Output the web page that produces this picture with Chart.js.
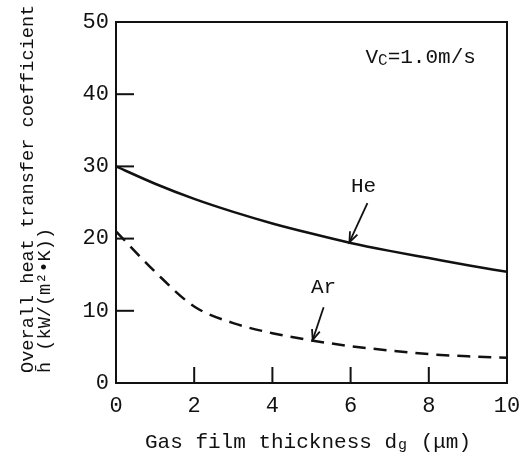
<!DOCTYPE html>
<html><head><meta charset="utf-8">
<script src="https://cdn.jsdelivr.net/npm/chart.js@4"></script>
<style>html,body{margin:0;padding:0;background:#fff;} canvas{display:block}</style>
</head><body>
<canvas id="c" width="522" height="454"></canvas>
<script>
// ---- data ----
const thickness = [0, 1, 2, 3, 4, 5, 6, 7, 8, 9, 10];
const heValues  = [30.0, 27.6, 25.5, 23.7, 22.1, 20.7, 19.4, 18.3, 17.3, 16.3, 15.4];
const arValues  = [21.0, 15.4, 10.6, 8.3, 6.9, 5.9, 5.1, 4.5, 4.0, 3.7, 3.5];
const xTicks = [0, 2, 4, 6, 8, 10];
const yTicks = [0, 10, 20, 30, 40, 50];
const seriesNames = ['He', 'Ar'];
const xTitle = ['Gas film thickness d', 'g', ' (\u03bcm)'];
const yTitle1 = 'Overall heat transfer coefficient';
const yTitle2 = 'h\u0304 (kW/(m\u00b2\u2022K))';
const condText = ['V', 'C', '=1.0m/s'];

// ---- annotation placement (data coordinates) ----
const notes = {
  he: { label: [6.33, 27.2], from: [6.43, 24.9], to: [5.97, 19.5] },
  ar: { label: [5.31, 13.3], from: [5.31, 10.5], to: [5.03, 5.96] },
  cond: [6.38, 44.3]
};

const FONT = '"Liberation Mono", "DejaVu Sans Mono", monospace';
const INK = '#111';

const decor = {
  id: 'decor',
  afterDraw(chart) {
    const ctx = chart.ctx, a = chart.chartArea;
    const xs = chart.scales.x, ys = chart.scales.y;
    const px = v => xs.getPixelForValue(v), py = v => ys.getPixelForValue(v);
    ctx.save();
    ctx.strokeStyle = INK; ctx.fillStyle = INK;
    // frame
    ctx.lineWidth = 2;
    ctx.strokeRect(a.left, a.top, a.right - a.left, a.bottom - a.top);
    // inside ticks
    yTicks.forEach(t => { if (t > 0 && t < 50) { const y = py(t); ctx.beginPath(); ctx.moveTo(a.left, y); ctx.lineTo(a.left + 18, y); ctx.stroke(); } });
    xTicks.forEach(t => { if (t > 0 && t < 10) { const x = px(t); ctx.beginPath(); ctx.moveTo(x, a.bottom); ctx.lineTo(x, a.bottom - 16); ctx.stroke(); } });

    // x title with subscript
    ctx.textBaseline = 'alphabetic'; ctx.textAlign = 'left';
    let x = 145; const base = 448;
    ctx.font = '21px ' + FONT; ctx.fillText(xTitle[0], x, base); x += ctx.measureText(xTitle[0]).width;
    ctx.font = '15px ' + FONT; ctx.fillText(xTitle[1], x + 1, base + 1); x += ctx.measureText(xTitle[1]).width + 2;
    ctx.font = '21px ' + FONT; ctx.fillText(xTitle[2], x, base);

    // y title (rotated, two lines, bottom-aligned)
    ctx.save();
    ctx.translate(28, 373); ctx.rotate(-Math.PI / 2);
    ctx.textBaseline = 'middle'; ctx.font = '18.6px ' + FONT;
    ctx.fillText(yTitle1, 0, 0);
    ctx.restore();
    ctx.save();
    ctx.translate(45, 373); ctx.rotate(-Math.PI / 2);
    ctx.textBaseline = 'middle'; ctx.font = '18.6px ' + FONT;
    ctx.fillText(yTitle2, 0, 0);
    ctx.restore();

    // condition text
    ctx.textBaseline = 'alphabetic';
    let cx = px(notes.cond[0]); const cb = py(notes.cond[1]);
    ctx.font = '21px ' + FONT; ctx.fillText(condText[0], cx, cb); cx += ctx.measureText(condText[0]).width;
    ctx.font = '16px ' + FONT; ctx.fillText(condText[1], cx, cb + 2); cx += ctx.measureText(condText[1]).width;
    ctx.font = '21px ' + FONT; ctx.fillText(condText[2], cx, cb);

    // series labels + arrows
    ctx.textAlign = 'center'; ctx.textBaseline = 'middle'; ctx.font = '21px ' + FONT;
    [['he', seriesNames[0]], ['ar', seriesNames[1]]].forEach(([k, name]) => {
      const n = notes[k];
      ctx.fillText(name, px(n.label[0]), py(n.label[1]));
      const x1 = px(n.from[0]), y1 = py(n.from[1]), x2 = px(n.to[0]), y2 = py(n.to[1]);
      ctx.lineWidth = 1.8;
      ctx.beginPath(); ctx.moveTo(x1, y1); ctx.lineTo(x2, y2); ctx.stroke();
      const ang = Math.atan2(y2 - y1, x2 - x1), L = 11, w = 0.38;
      ctx.beginPath();
      ctx.moveTo(x2 - L * Math.cos(ang - w), y2 - L * Math.sin(ang - w));
      ctx.lineTo(x2, y2);
      ctx.lineTo(x2 - L * Math.cos(ang + w), y2 - L * Math.sin(ang + w));
      ctx.stroke();
    });
    ctx.restore();
  }
};

new Chart(document.getElementById('c'), {
  type: 'line',
  data: {
    datasets: [
      { label: seriesNames[0], data: thickness.map((t, i) => ({ x: t, y: heValues[i] })),
        borderColor: INK, borderWidth: 2.5, pointRadius: 0, tension: 0.4, cubicInterpolationMode: 'monotone', fill: false },
      { label: seriesNames[1], data: thickness.map((t, i) => ({ x: t, y: arValues[i] })),
        borderColor: INK, borderWidth: 2.5, borderDash: [13, 8], pointRadius: 0, tension: 0.4, cubicInterpolationMode: 'monotone', fill: false }
    ]
  },
  options: {
    responsive: false, animation: false,
    layout: { padding: { left: 0, right: 15, top: 22, bottom: 0 } },
    plugins: { legend: { display: false }, tooltip: { enabled: false } },
    scales: {
      x: {
        type: 'linear', min: 0, max: 10,
        afterBuildTicks: s => { s.ticks = xTicks.map(v => ({ value: v })); },
        afterFit: s => { s.height = 71; s.paddingLeft = 0; s.paddingRight = 0; },
        grid: { display: false, drawTicks: false },
        border: { display: false },
        ticks: { color: INK, padding: 10, font: { family: FONT, size: 22 }, maxRotation: 0 }
      },
      y: {
        type: 'linear', min: 0, max: 50,
        afterBuildTicks: s => { s.ticks = yTicks.map(v => ({ value: v })); },
        afterFit: s => { s.width = 116; s.paddingTop = 0; s.paddingBottom = 0; },
        grid: { display: false, drawTicks: false },
        border: { display: false },
        ticks: { color: INK, padding: 7, font: { family: FONT, size: 22 } }
      }
    }
  },
  plugins: [decor]
});
</script>
</body></html>
